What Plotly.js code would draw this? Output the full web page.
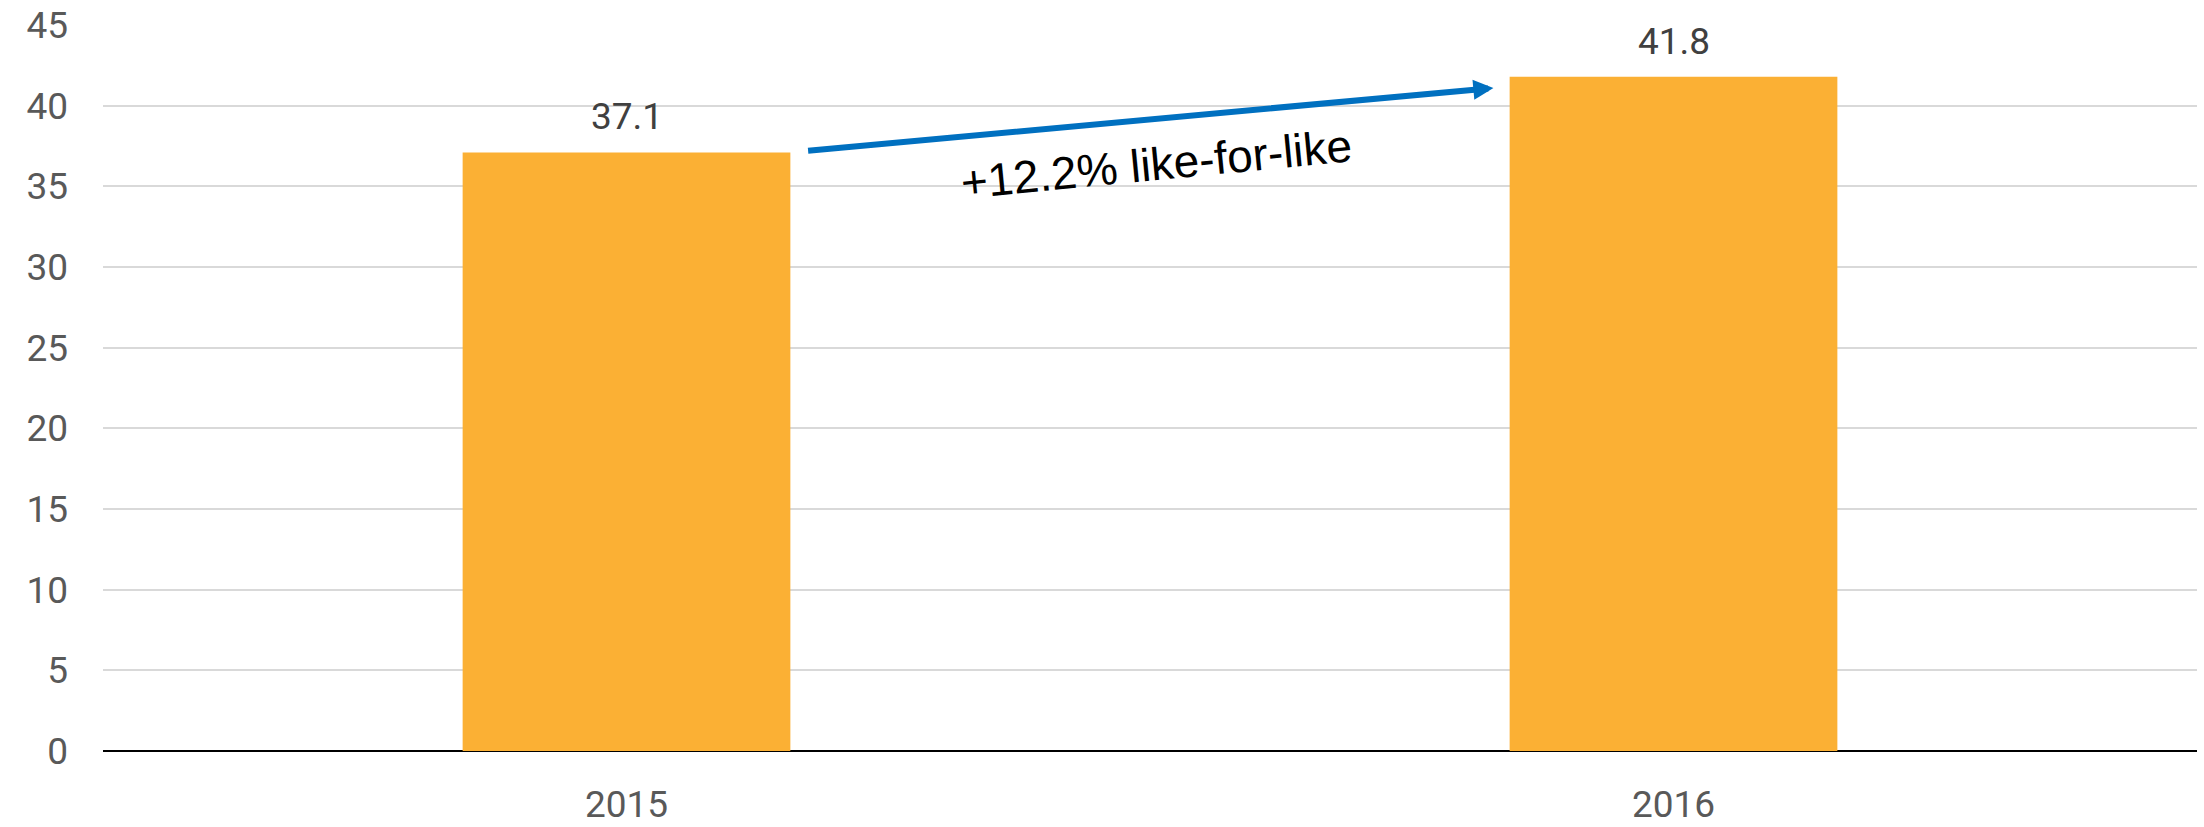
<!DOCTYPE html>
<html>
<head>
<meta charset="utf-8">
<script src="https://cdn.plot.ly/plotly-3.0.1.min.js"></script>
<style>
  html, body { margin: 0; padding: 0; background: #ffffff; }
  #chart { width: 2204px; height: 827px; }
</style>
</head>
<body>
<div id="chart"></div>
<script>
// Revenue by year
const years = ['2015', '2016'];
const values = [37.1, 41.8];

// Growth callout: arrow from the first bar towards the second
const growthLabel = '+12.2% like-for-like';
const arrowTail = { x: 0.172, y: 37.2 };
const arrowHead = { x: 0.828, y: 41.1 };
const labelPos = { x: 0.506, y: 36.4 };

const yTicks = [0, 5, 10, 15, 20, 25, 30, 35, 40, 45];

const tickFont = { family: 'Roboto, sans-serif', size: 37, color: '#595959' };

// value labels sit above each bar (category index on the x axis)
const valueLabels = years.map((yr, i) => ({
  x: i,
  y: values[i],
  xref: 'x',
  yref: 'y',
  text: values[i].toFixed(1),
  showarrow: false,
  yanchor: 'bottom',
  yshift: 12,
  font: { family: 'Roboto, sans-serif', size: 37, color: '#404040' }
}));

const trace = {
  type: 'bar',
  x: years,
  y: values,
  marker: { color: '#FBB034' },
  hoverinfo: 'x+y'
};

const layout = {
  width: 2204,
  height: 827,
  margin: { l: 103, r: 7, t: 25, b: 76 },
  paper_bgcolor: '#ffffff',
  plot_bgcolor: '#ffffff',
  bargap: 0.687,
  showlegend: false,
  xaxis: {
    type: 'category',
    range: [-0.5, 1.5],
    showgrid: false,
    showline: false,
    ticks: '',
    tickfont: tickFont,
    ticklabelstandoff: 28
  },
  yaxis: {
    range: [0, 45],
    tickvals: yTicks,
    ticktext: yTicks.map(String),
    showgrid: true,
    gridcolor: '#d9d9d9',
    gridwidth: 2,
    zeroline: true,
    zerolinecolor: '#000000',
    zerolinewidth: 2,
    showline: false,
    ticks: '',
    tickfont: tickFont,
    ticklabelstandoff: 34
  },
  annotations: valueLabels.concat([
    {
      x: arrowHead.x,
      y: arrowHead.y,
      ax: arrowTail.x,
      ay: arrowTail.y,
      xref: 'x',
      yref: 'y',
      axref: 'x',
      ayref: 'y',
      text: '',
      showarrow: true,
      arrowhead: 2,
      arrowsize: 0.67,
      arrowwidth: 6,
      arrowcolor: '#0070C0'
    },
    {
      x: labelPos.x,
      y: labelPos.y,
      xref: 'x',
      yref: 'y',
      text: growthLabel,
      showarrow: false,
      textangle: -5.5,
      font: { family: 'Liberation Sans, Arial, sans-serif', size: 46, color: '#000000' }
    }
  ])
};

Plotly.newPlot('chart', [trace], layout, { displayModeBar: false, staticPlot: true });
</script>
</body>
</html>
